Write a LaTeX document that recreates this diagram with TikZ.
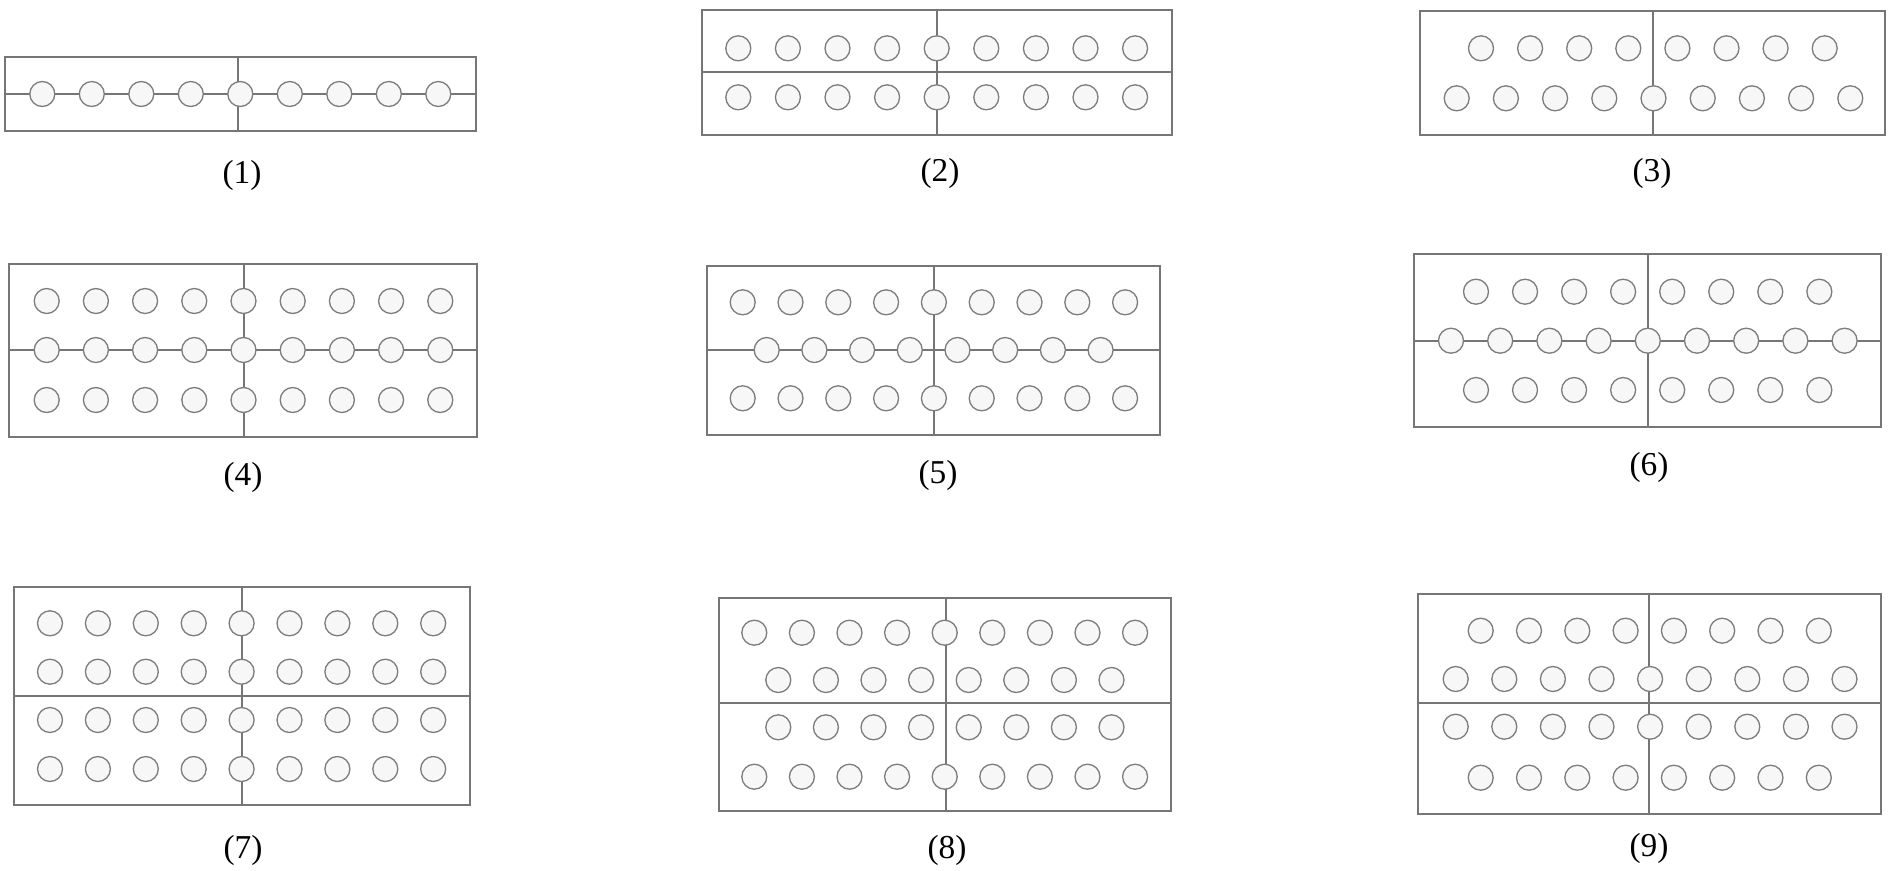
\documentclass[tikz,border=0pt]{standalone}
\usepackage{fontspec}
\setmainfont{Liberation Serif}
\definecolor{linegray}{RGB}{118,118,118}
\definecolor{holegray}{RGB}{125,125,125}
\definecolor{holefill}{RGB}{247,247,247}
\tikzset{
  frame/.style={draw=linegray, line width=1.1pt},
  hole/.style={circle, draw=holegray, fill=holefill, line width=0.75pt,
    minimum size=0.5cm, inner sep=0pt},
  tag/.style={font=\fontsize{19}{22}\selectfont, inner sep=0pt}
}
% one row of holes: name, y, first x, step, count
\newcommand{\holerow}[5]{%
  \foreach \i in {1,...,#5}
    \node[hole] (#1-\i) at ({#3+(\i-1)*#4},#2) {};}

\begin{document}
\begin{tikzpicture}[x=0.02cm,y=-0.02cm]
\useasboundingbox (0,0) rectangle (1894,870);

% (1)
\draw[frame] (5,57) rectangle (476,131);
\draw[frame] (238,57) -- (238,131);
\draw[frame] (5,94) -- (476,94);
\holerow{a1}{94}{42.3}{49.5}{9}
\node[tag] (l1) at (242,175) {(1)};

% (2)
\draw[frame] (702,10) rectangle (1172,135);
\draw[frame] (937,10) -- (937,135);
\draw[frame] (702,72) -- (1172,72);
\holerow{b1}{48.3}{738.3}{49.6}{9}
\holerow{b2}{97.3}{738.3}{49.6}{9}
\node[tag] (l2) at (940,173) {(2)};

% (3)
\draw[frame] (1420,11) rectangle (1885,135);
\draw[frame] (1653,11) -- (1653,135);
\holerow{c1}{48.3}{1481}{49.1}{8}
\holerow{c2}{98.3}{1456.7}{49.2}{9}
\node[tag] (l3) at (1652,173) {(3)};

% (4)
\draw[frame] (9,264) rectangle (477,437);
\draw[frame] (244,264) -- (244,437);
\draw[frame] (9,350) -- (477,350);
\holerow{d1}{301}{46.7}{49.2}{9}
\holerow{d2}{350}{46.7}{49.2}{9}
\holerow{d3}{400}{46.7}{49.2}{9}
\node[tag] (l4) at (243,477) {(4)};

% (5)
\draw[frame] (707,266) rectangle (1160,435);
\draw[frame] (934,266) -- (934,435);
\draw[frame] (707,350) -- (1160,350);
\holerow{e1}{302.3}{742.7}{47.8}{9}
\holerow{e2}{350}{766.7}{47.7}{8}
\holerow{e3}{398.3}{742.7}{47.8}{9}
\node[tag] (l5) at (938,475) {(5)};

% (6)
\draw[frame] (1414,254) rectangle (1881,427);
\draw[frame] (1648.3,254) -- (1648.3,427);
\draw[frame] (1414,340.7) -- (1881,340.7);
\holerow{f1}{291.7}{1476}{49.05}{8}
\holerow{f2}{340.7}{1451}{49.2}{9}
\holerow{f3}{390}{1476}{49.05}{8}
\node[tag] (l6) at (1649,467) {(6)};

% (7)
\draw[frame] (14,587) rectangle (470,805);
\draw[frame] (241.7,587) -- (241.7,805);
\draw[frame] (14,696) -- (470,696);
\holerow{g1}{623.3}{50}{47.9}{9}
\holerow{g2}{671.7}{50}{47.9}{9}
\holerow{g3}{720}{50}{47.9}{9}
\holerow{g4}{769}{50}{47.9}{9}
\node[tag] (l7) at (243,850) {(7)};

% (8)
\draw[frame] (719,598) rectangle (1171,811);
\draw[frame] (945.7,598) -- (945.7,811);
\draw[frame] (719,703.3) -- (1171,703.3);
\holerow{h1}{632.7}{754.3}{47.6}{9}
\holerow{h2}{680}{778.3}{47.6}{8}
\holerow{h3}{727.3}{778.3}{47.6}{8}
\holerow{h4}{776.7}{754.3}{47.6}{9}
\node[tag] (l8) at (947,850) {(8)};

% (9)
\draw[frame] (1418,594) rectangle (1881,814);
\draw[frame] (1649.3,594) -- (1649.3,814);
\draw[frame] (1418,703.3) -- (1881,703.3);
\holerow{k1}{630.7}{1480.7}{48.3}{8}
\holerow{k2}{679}{1455.7}{48.6}{9}
\holerow{k3}{726.7}{1455.7}{48.6}{9}
\holerow{k4}{777.7}{1480.7}{48.3}{8}
\node[tag] (l9) at (1649,848) {(9)};
\end{tikzpicture}
\end{document}
